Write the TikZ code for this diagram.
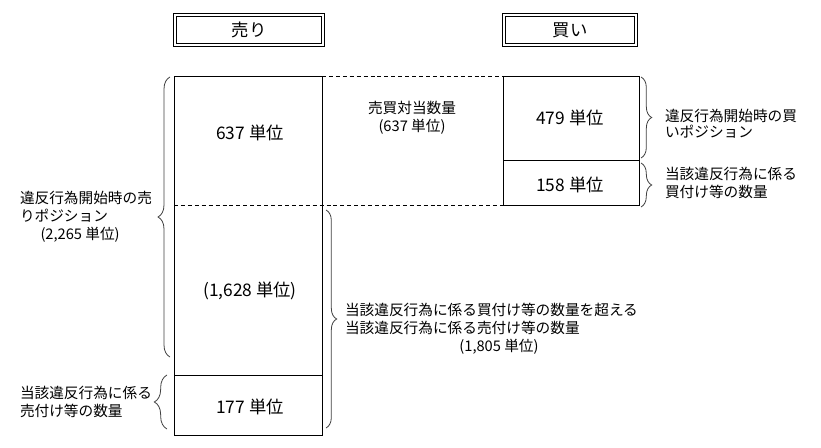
\documentclass[tikz,border=0pt]{standalone}
\usepackage{fontspec}
\setmainfont{Noto Sans CJK JP}
\usetikzlibrary{fit, calc, decorations.pathreplacing}

\begin{document}
\begin{tikzpicture}[
    x=0.75pt, y=-0.75pt,
    every node/.style={inner sep=0pt, outer sep=0pt},
    hdr/.style={draw, line width=0.6pt, double, double distance=1.5pt},
    hdrtext/.style={font=\fontsize{13}{15}\selectfont},
    cell/.style={draw, line width=0.75pt},
    qty/.style={font=\fontsize{13}{15}\selectfont},
    lbl/.style={align=left, anchor=north west, font=\fontsize{11}{13.5}\selectfont},
    brc/.style={decorate, decoration={brace, amplitude=#1}, line width=0.6pt, black!75},
    brc/.default=8pt,
    cut/.style={line width=0.75pt, dash pattern=on 3pt off 2.2pt}
  ]
  \useasboundingbox (0,0) rectangle (821,448);

  % headers
  \node[hdr, fit={(175,15)(323,45)}] (hdrSell) {};
  \node[hdr, fit={(504,15)(636,45)}] (hdrBuy) {};
  \node[hdrtext] (tSell) at (hdrSell.center) {売り};
  \node[hdrtext] (tBuy) at (hdrBuy.center) {買い};

  % columns
  \node[cell, fit={(174,77)(322,436)}] (sellCol) {};
  \node[fit={(174,77)(322,206)}] (sellUp) {};
  \node[fit={(174,206)(322,376)}] (sellMid) {};
  \node[cell, fit={(174,376)(322,436)}] (sellBot) {};
  \node[cell, fit={(503,77)(639,161)}] (buyUp) {};
  \node[cell, fit={(503,161)(639,206)}] (buyBot) {};

  \draw[cut] (sellCol.north east) -- (buyUp.north west);
  \draw[cut] (sellMid.north west) -- (buyBot.south west);

  % quantities
  \node[qty] (q637) at (250,133) {637 単位};
  \node[qty] (q1628) at (250,291) {(1,628 単位)};
  \node[qty] (q177) at (250,407) {177 単位};
  \node[qty] (q479) at (570,118) {479 単位};
  \node[qty] (q158) at (570,185) {158 単位};

  % braces
  \draw[brc=9pt] ($(sellMid.south west)+(-4,-19)$) -- ($(sellUp.north west)+(-4,0)$);
  \draw[brc=9.5pt] ($(sellBot.south west)+(-7,-7)$) -- ($(sellBot.north west)+(-7,-1)$);
  \draw[brc] ($(sellMid.north east)+(4,4)$) -- ($(sellBot.south east)+(4,-8)$);
  \draw[brc] ($(buyUp.north east)+(2,0)$) -- ($(buyUp.south east)+(2,-3)$);
  \draw[brc] ($(buyBot.north east)+(2,2)$) -- ($(buyBot.south east)+(2,1)$);

  % labels
  \node[lbl] (lSellPos) at (20,191) {違反行為開始時の売\\りポジション\\\hspace*{1.4em}(2,265 単位)};
  \node[lbl] (lSellCnt) at (20,386) {当該違反行為に係る\\売付け等の数量};
  \node[lbl] (lOver) at (345,303) {当該違反行為に係る買付け等の数量を超える\\当該違反行為に係る売付け等の数量\\\hspace*{7.8em}(1,805 単位)};
  \node[lbl, font=\fontsize{11}{12.3}\selectfont] (lBuyPos) at (665,109) {違反行為開始時の買\\いポジション};
  \node[lbl] (lBuyCnt) at (665,167) {当該違反行為に係る\\買付け等の数量};
  \node[lbl, align=center, anchor=center] (lMatch) at (412,118) {売買対当数量\\(637 単位)};
\end{tikzpicture}
\end{document}
